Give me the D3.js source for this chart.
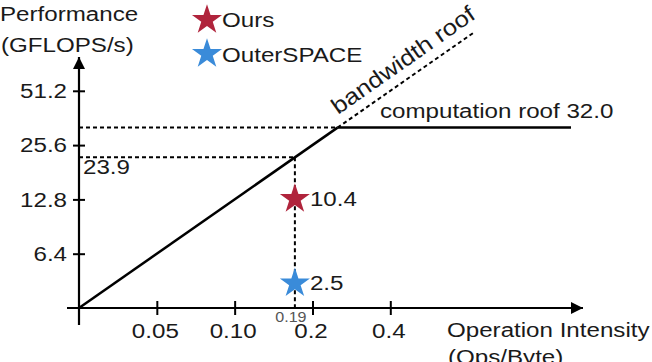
<!DOCTYPE html>
<html>
<head>
<meta charset="utf-8">
<script src="https://cdn.jsdelivr.net/npm/d3@7"></script>
<style>
body { margin: 0; background: #fff; }
svg text { font-family: "Liberation Sans", Arial, sans-serif; fill: #1a1a1a; }
</style>
</head>
<body>
<svg width="652" height="362"></svg>
<script>
var yTicks = [6.4, 12.8, 25.6, 51.2];
var xTicks = [0.05, 0.10, 0.2, 0.4];
var xTickLabels = ["0.05", "0.10", "0.2", "0.4"];
var series = ["Ours", "OuterSPACE"];
var seriesColors = ["#b0243c", "#3a8bd9"];
// where the stars sit in the figure (OI, GFLOPS/s) and the numbers printed beside them
var pointOI = [0.171, 0.171];
var pointPerf = [13.2, 4.5];
var pointLabels = ["10.4", "2.5"];
var peakPerf = 32.0;   // computation roof
var bandwidth = 128;   // slope of the bandwidth roof
var guideOI = 0.171, guideOILabel = "0.19", guidePerfLabel = "23.9";
var oiDomain = [0.025, 2.0];
var perfDomain = [3.2, 51.2];
var bwExtendTo = 0.85;

var svg = d3.select("svg");
var stretch = 1.15;   // reference text is a bit wide

var x = d3.scaleLog().base(2).domain(oiDomain).range([79, 571]);
var y = d3.scaleLog().base(2).domain(perfDomain).range([308, 90.8]);

function txt(px, py, s, size, anchor) {
    return svg.append("text")
        .attr("transform", "translate(" + px + "," + py + ") scale(" + stretch + ",1)")
        .attr("font-size", size)
        .attr("text-anchor", anchor || "start")
        .text(s);
}

svg.append("defs").append("marker")
    .attr("id", "arrow")
    .attr("viewBox", "0 0 12 12")
    .attr("refX", 12).attr("refY", 6)
    .attr("markerWidth", 12).attr("markerHeight", 12)
    .attr("markerUnits", "userSpaceOnUse")
    .attr("orient", "auto")
    .append("path").attr("d", "M0,0L12,6L0,12Z").attr("fill", "#000");

// axes with arrows
svg.append("line")
    .attr("x1", x(oiDomain[0])).attr("x2", x(oiDomain[0]))
    .attr("y1", y(perfDomain[0]) + 17).attr("y2", 57)
    .attr("stroke", "#000").attr("stroke-width", 2.2)
    .attr("marker-end", "url(#arrow)");
svg.append("line")
    .attr("x1", x(oiDomain[0]) - 12).attr("x2", 583)
    .attr("y1", y(perfDomain[0])).attr("y2", y(perfDomain[0]))
    .attr("stroke", "#000").attr("stroke-width", 2.2)
    .attr("marker-end", "url(#arrow)");

var yAxis = svg.append("g")
    .attr("transform", "translate(" + x(oiDomain[0]) + ",0)")
    .call(d3.axisLeft(y).tickValues(yTicks).tickFormat(d3.format(".1f")).tickSize(6));
yAxis.select(".domain").remove();
yAxis.selectAll(".tick line").attr("x1", 6).attr("stroke-width", 2);
yAxis.selectAll(".tick text")
    .attr("x", -12 / stretch)
    .attr("transform", "scale(" + stretch + ",1)")
    .attr("font-size", 21).attr("font-family", null);

var xAxis = svg.append("g")
    .attr("transform", "translate(0," + y(perfDomain[0]) + ")")
    .call(d3.axisBottom(x).tickValues(xTicks).tickFormat(function(d, i) { return xTickLabels[i]; }).tickSize(7));
xAxis.select(".domain").remove();
xAxis.selectAll(".tick line").attr("y1", -7).attr("stroke-width", 2);
xAxis.selectAll(".tick text")
    .attr("x", -2)
    .attr("y", 15)
    .attr("font-size", 21).attr("font-family", null)
    .style("transform-box", "fill-box").style("transform-origin", "center")
    .style("transform", "scaleX(" + stretch + ")");

// roofs
var knee = peakPerf / bandwidth;
svg.append("line")
    .attr("x1", x(oiDomain[0])).attr("y1", y(bandwidth * oiDomain[0]))
    .attr("x2", x(knee)).attr("y2", y(peakPerf))
    .attr("stroke", "#000").attr("stroke-width", 2.5);
svg.append("line")
    .attr("x1", x(knee)).attr("y1", y(peakPerf))
    .attr("x2", x(oiDomain[1])).attr("y2", y(peakPerf))
    .attr("stroke", "#000").attr("stroke-width", 2.5);
svg.append("line")
    .attr("x1", x(knee)).attr("y1", y(peakPerf))
    .attr("x2", x(bwExtendTo)).attr("y2", y(bandwidth * bwExtendTo))
    .attr("stroke", "#000").attr("stroke-width", 2).attr("stroke-dasharray", "4,3");

// dashed guides
var dash = svg.append("g").attr("stroke", "#000").attr("stroke-width", 2).attr("stroke-dasharray", "4,3");
dash.append("line")
    .attr("x1", x(oiDomain[0])).attr("x2", x(knee))
    .attr("y1", y(peakPerf)).attr("y2", y(peakPerf));
dash.append("line")
    .attr("x1", x(oiDomain[0])).attr("x2", x(guideOI))
    .attr("y1", y(bandwidth * guideOI)).attr("y2", y(bandwidth * guideOI));
dash.append("line")
    .attr("x1", x(guideOI)).attr("x2", x(guideOI))
    .attr("y1", y(bandwidth * guideOI)).attr("y2", y(perfDomain[0]));

// stars
var star = d3.symbol().type(d3.symbolStar).size(280);
svg.selectAll(".pt")
    .data(series)
    .enter().append("path")
        .attr("class", "pt")
        .attr("d", star)
        .attr("transform", function(d, i) { return "translate(" + x(pointOI[i]) + "," + (y(pointPerf[i]) + 2) + ")"; })
        .attr("fill", function(d, i) { return seriesColors[i]; });
series.forEach(function(d, i) {
    txt(x(pointOI[i]) + 15, y(pointPerf[i]) + 9, pointLabels[i], 21);
});

// labels
txt(83, 174, guidePerfLabel, 21);
txt(x(guideOI) - 4, 322, guideOILabel, 14, "middle").style("fill", "#555");
txt(380, 118, "computation roof " + peakPerf.toFixed(1), 21);
svg.append("text")
    .attr("transform", "translate(338,115) rotate(-35) scale(" + stretch + ",1)")
    .attr("font-size", 22.5)
    .text("bandwidth roof");

// legend
series.forEach(function(d, i) {
    svg.append("path").attr("d", star)
        .attr("transform", "translate(207," + (20 + i * 34) + ")")
        .attr("fill", seriesColors[i]);
    txt(222, 27 + i * 35, d, 21);
});

// axis titles
txt(0, 21, "Performance", 21);
txt(1, 52, "(GFLOPS/s)", 21);
txt(447, 337, "Operation Intensity", 21);
txt(448, 364, "(Ops/Byte)", 21);
</script>
</body>
</html>
